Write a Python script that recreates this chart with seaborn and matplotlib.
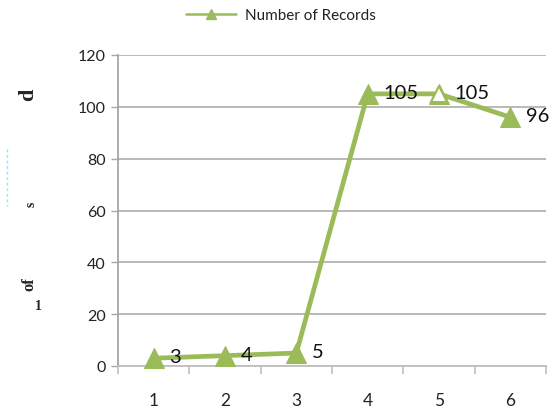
import numpy as np
import matplotlib
matplotlib.use("Agg")
import matplotlib.pyplot as plt
import seaborn as sns

# Data
categories = [1, 2, 3, 4, 5, 6]
records = [3, 4, 5, 105, 105, 96]
labels = ["3", "4", "5", "105", "105", "96"]
series_name = "Number of Records"
y_ticks = [0, 20, 40, 60, 80, 100, 120]

GREEN = "#9BBB59"
GRID = "#A6A6A6"

sns.set_theme(style="white")
plt.rcParams['font.family'] = ['Lato', 'DejaVu Sans']

fig = plt.figure(figsize=(5.52, 4.14), dpi=100)
ax = fig.add_axes([118 / 552, 1 - 367 / 414, 428 / 552, 311 / 414])

sns.lineplot(x=categories, y=records, ax=ax, color=GREEN, linewidth=3.4,
             marker="^", markersize=14, markeredgecolor=GREEN,
             label=series_name, legend=False, clip_on=False, zorder=3)

# point 5 is drawn hollow in the original
ax.plot(categories[4], records[4], marker="^", markersize=12,
        markerfacecolor="white", markeredgecolor=GREEN, markeredgewidth=1.5,
        linestyle="none", zorder=4, clip_on=False)

# data labels
for x, y, t in zip(categories, records, labels):
    ax.annotate(t, (x, y), xytext=(11, 1), textcoords="offset points",
                ha="left", va="center", fontsize=14.5, color="#111111",
                zorder=5)

ax.set_xlim(0.5, 6.5)
ax.set_ylim(0, 120)
ax.set_yticks(y_ticks)
ax.yaxis.grid(True, color=GRID, linewidth=1.1)
ax.xaxis.grid(False)
ax.tick_params(axis="y", which="major", length=5, width=1, color=GRID,
               labelsize=11.5, labelcolor="#222222", pad=4, left=True)

# category boundaries get the tick marks, centers get the labels
ax.set_xticks(np.arange(0.5, 7.0, 1.0))
ax.set_xticklabels([])
ax.set_xticks(categories, minor=True)
ax.set_xticklabels([str(c) for c in categories], minor=True)
ax.tick_params(axis="x", which="major", length=6, width=1.2, color="#BFBFBF",
               bottom=True, direction="out")
ax.tick_params(axis="x", which="minor", length=0, labelsize=12.5,
               labelcolor="#222222", pad=19)

for s in ["top", "right"]:
    ax.spines[s].set_visible(False)
ax.spines["left"].set_color(GRID)
ax.spines["left"].set_linewidth(1.3)
ax.spines["bottom"].set_color("#BFBFBF")
ax.spines["bottom"].set_linewidth(1.3)
ax.set_xlabel("")
ax.set_ylabel("")

# legend on top
handle = plt.Line2D([], [], color=GREEN, linewidth=1.8, marker="^",
                    markersize=7, markeredgecolor=GREEN)
fig.legend([handle], [series_name], loc="center",
           bbox_to_anchor=(281 / 552, 1 - 16 / 414), frameon=False,
           fontsize=11, handlelength=3.3, handletextpad=0.6,
           labelcolor="#222222")

# broken axis title fragments left of the axis
serif = ['Liberation Serif', 'DejaVu Serif']
fig.text(28 / 552, 1 - 95 / 414, "d", rotation=90, fontsize=16,
         fontweight="bold", family=serif, ha="center", va="center")
fig.text(31 / 552, 1 - 204 / 414, "s", rotation=90, fontsize=10,
         fontweight="bold", family=serif, ha="center", va="center")
fig.text(29 / 552, 1 - 284 / 414, "of", rotation=90, fontsize=12,
         fontweight="bold", family=serif, ha="center", va="center")
fig.text(38 / 552, 1 - 307 / 414, "1", rotation=0, fontsize=10,
         fontweight="bold", family=serif, ha="center", va="center")
fig.add_artist(plt.Line2D([7 / 552, 7 / 552], [1 - 150 / 414, 1 - 207 / 414],
                          color="#7FEFFF", linewidth=1, linestyle=(0, (2, 2))))

fig.savefig("out.png", dpi=100)
